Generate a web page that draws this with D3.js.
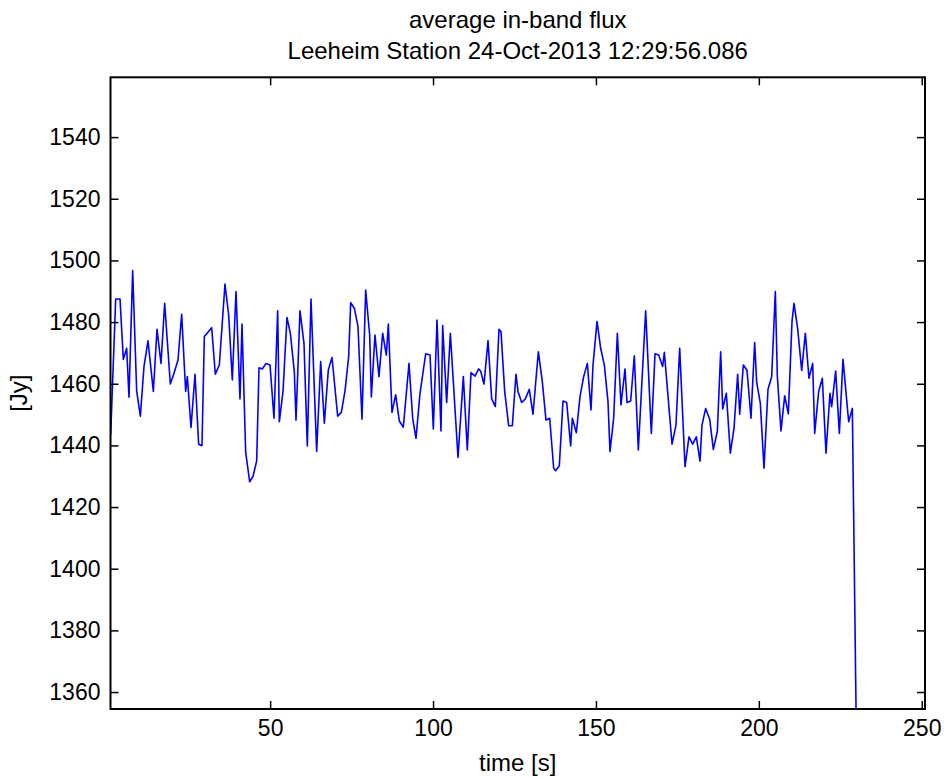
<!DOCTYPE html>
<html>
<head>
<title>average in-band flux</title>
<script src="https://d3js.org/d3.v7.min.js"></script>
<style>
body { margin: 0; background: #fff; }
svg text { font-family: "Liberation Sans", Arial, sans-serif; fill: #000; }
</style>
</head>
<body>
<svg width=944 height=778></svg>
<script type="text/javascript">
// Title lines
var titleLines = ["average in-band flux", "Leeheim Station 24-Oct-2013 12:29:56.086"];

// Time [s] of each sample
var timeS = [1.05,2.59,3.92,4.94,5.96,6.68,7.80,9.03,10.16,11.28,12.51,14.15,15.27,16.50,17.63,19.36,20.49,21.72,22.84,24.07,
  24.58,25.71,26.94,28.06,29.08,29.80,32.05,33.18,34.40,36.14,37.27,38.39,39.52,40.75,41.36,42.49,43.72,44.74,45.87,46.58,
  47.60,48.73,49.96,51.18,52.31,52.82,53.95,55.17,56.20,57.42,57.94,59.16,60.39,61.41,62.54,64.28,65.51,66.63,67.86,68.99,
  70.73,71.85,72.98,74.10,74.72,75.84,76.97,78.19,79.32,80.55,81.06,82.18,83.41,84.54,85.66,86.28,87.40,88.53,89.65,90.88,92.62,
  93.75,94.77,96.0,97.74,99.07,100.09,101.22,102.44,102.96,104.18,105.31,107.66,109.30,110.52,111.65,112.88,114.0,114.62,115.64,116.87,
  118.0,119.12,120.24,120.86,121.99,123.21,124.34,125.46,126.08,127.20,128.33,129.55,130.68,132.32,133.54,134.67,135.80,137.03,137.64,138.76,
  139.89,141.02,
  142.24,142.75,143.98,145.11,146.23,147.36,148.48,149.10,150.33,151.45,152.57,153.70,154.31,155.44,156.57,157.69,158.92,159.53,160.66,161.78,
  163.01,165.26,167.0,168.13,169.25,170.48,170.99,173.35,174.57,175.70,177.34,178.56,179.69,180.81,181.94,182.55,183.68,184.91,186.03,187.26,
  188.28,188.90,
  190.02,191.25,192.37,193.50,194.12,195.24,196.37,197.59,198.72,199.33,200.46,201.58,202.81,203.94,205.06,205.68,206.80,207.93,209.05,210.18,
  210.79,211.92,213.15,214.27,215.39,216.52,217.14,218.36,219.49,220.61,221.84,222.35,223.58,224.71,225.83,227.06,227.57,228.70,230.0];

// Average in-band flux [Jy]
var fluxJy = [1443.4,1487.5,1487.5,1467.9,1471.5,1455.6,1496.7,1457.7,1449.5,1465.6,1473.9,1457.5,1477.7,1466.6,1486.1,1459.9,1463.4,1467.7,1482.5,1457.5,
  1462.3,1445.8,1463.1,1440.4,1439.9,1475.3,1478.2,1463.1,1466.1,1492.3,1482.3,1461.2,1489.9,1455.1,1479.4,1437.8,1428.2,1429.9,1435.0,1465.2,
  1464.8,1466.6,1466.1,1448.8,1483.7,1447.7,1457.5,1481.5,1476.4,1463.9,1448.2,1483.7,1473.1,1439.8,1487.5,1438.0,1467.2,1447.2,1464.5,1468.5,
  1449.5,1450.7,1457.7,1468.8,1486.3,1484.5,1478.5,1448.5,1490.4,1475.8,1455.7,1475.8,1462.3,1476.4,1469.3,1479.4,1450.7,1456.4,1447.9,1445.9,1466.6,
  1448.8,1442.3,1456.9,1469.7,1469.3,1445.3,1480.7,1444.7,1478.9,1453.9,1476.4,1436.1,1462.3,1438.5,1463.6,1462.5,1464.8,1464.1,1459.9,1474.0,
  1455.1,1452.6,1477.7,1476.9,1457.5,1446.4,1446.4,1463.1,1457.5,1453.9,1455.1,1458.2,1450.1,1470.4,1460.7,1448.2,1448.8,1432.6,1431.8,1433.4,
  1454.4,1453.9,
  1439.8,1448.8,1444.1,1455.8,1462.3,1466.6,1451.5,1466.1,1480.2,1471.5,1466.1,1454.2,1438.0,1448.8,1476.4,1453.1,1464.8,1453.9,1454.4,1469.1,
  1438.5,1483.7,1443.9,1469.7,1469.3,1465.6,1470.2,1440.4,1446.6,1471.5,1433.1,1442.8,1440.4,1442.8,1434.9,1446.6,1452.0,1448.5,1438.7,1444.5,
  1470.4,1451.8,
  1456.9,1437.5,1445.5,1463.1,1450.1,1466.1,1464.3,1448.8,1473.4,1460.5,1453.6,1432.6,1458.2,1462.3,1489.9,1462.3,1444.7,1456.1,1450.2,1480.2,
  1486.1,1477.8,1464.3,1476.4,1461.8,1466.6,1443.9,1457.5,1461.8,1437.5,1456.9,1452.6,1464.1,1443.9,1467.9,1453.6,1447.7,1452.0,1340];

// Axis limits and ticks
var xLimits = [1, 251];
var yLimits = [1354.5, 1559.4];
var xTicks = [50, 100, 150, 200, 250];
var yTicks = [1360, 1380, 1400, 1420, 1440, 1460, 1480, 1500, 1520, 1540];

// plot box in pixels
var boxL = 110.5, boxR = 925, boxT = 77.3, boxB = 709;
var tickLen = 8;

var scale_x = d3.scaleLinear().domain(xLimits).range([boxL, boxR]);
var scale_y = d3.scaleLinear().domain(yLimits).range([boxB, boxT]);

var svg = d3.select("svg");

svg.append("defs").append("clipPath").attr("id", "plotclip")
    .append("rect")
    .attr("x", boxL).attr("y", boxT)
    .attr("width", boxR - boxL).attr("height", boxB - boxT);

// data line
var data = timeS.map(function(t, i) { return {t: t, v: fluxJy[i]}; });
svg.append("path")
    .datum(data)
    .attr("clip-path", "url(#plotclip)")
    .attr("fill", "none")
    .attr("stroke", "#0000ff")
    .attr("stroke-width", 1.6)
    .attr("stroke-linejoin", "round")
    .attr("d", d3.line()
        .x(function(d) { return scale_x(d.t); })
        .y(function(d) { return scale_y(d.v); }));

// axes: ticks pointing inward on all four sides (box on)
function styleAxis(g) {
    g.select(".domain").remove();
    g.selectAll(".tick line").attr("stroke", "#000").attr("stroke-width", 1.5);
    g.selectAll(".tick text").style("font-size", "23px").attr("fill", "#000");
}

svg.append("g")
    .attr("transform", "translate(0," + boxB + ")")
    .call(d3.axisBottom(scale_x).tickValues(xTicks).tickFormat(d3.format("d"))
        .tickSizeInner(-tickLen).tickSizeOuter(0).tickPadding(11))
    .call(styleAxis);
svg.append("g")
    .attr("transform", "translate(0," + boxT + ")")
    .call(d3.axisTop(scale_x).tickValues(xTicks).tickSizeInner(-tickLen).tickSizeOuter(0).tickFormat(""))
    .call(styleAxis);
svg.append("g")
    .attr("transform", "translate(" + boxL + ",0)")
    .call(d3.axisLeft(scale_y).tickValues(yTicks).tickFormat(d3.format("d"))
        .tickSizeInner(-tickLen).tickSizeOuter(0).tickPadding(10))
    .call(styleAxis);
svg.append("g")
    .attr("transform", "translate(" + boxR + ",0)")
    .call(d3.axisRight(scale_y).tickValues(yTicks).tickSizeInner(-tickLen).tickSizeOuter(0).tickFormat(""))
    .call(styleAxis);

// box
svg.append("rect")
    .attr("x", boxL).attr("y", boxT)
    .attr("width", boxR - boxL).attr("height", boxB - boxT)
    .attr("fill", "none")
    .attr("stroke", "#000")
    .attr("stroke-width", 2);

// titles and labels
var midX = (boxL + boxR) / 2;
svg.selectAll(".title")
    .data(titleLines)
    .enter().append("text")
    .attr("class", "title")
    .attr("x", midX)
    .attr("y", function(d, i) { return 28 + i * 31; })
    .attr("text-anchor", "middle")
    .style("font-size", "24px")
    .text(function(d) { return d; });

svg.append("text")
    .attr("x", midX)
    .attr("y", 771)
    .attr("text-anchor", "middle")
    .style("font-size", "24px")
    .text("time [s]");

svg.append("text")
    .attr("transform", "translate(27," + ((boxT + boxB) / 2) + ")rotate(-90)")
    .attr("text-anchor", "middle")
    .style("font-size", "24px")
    .text("[Jy]");
</script>
</body>
</html>
